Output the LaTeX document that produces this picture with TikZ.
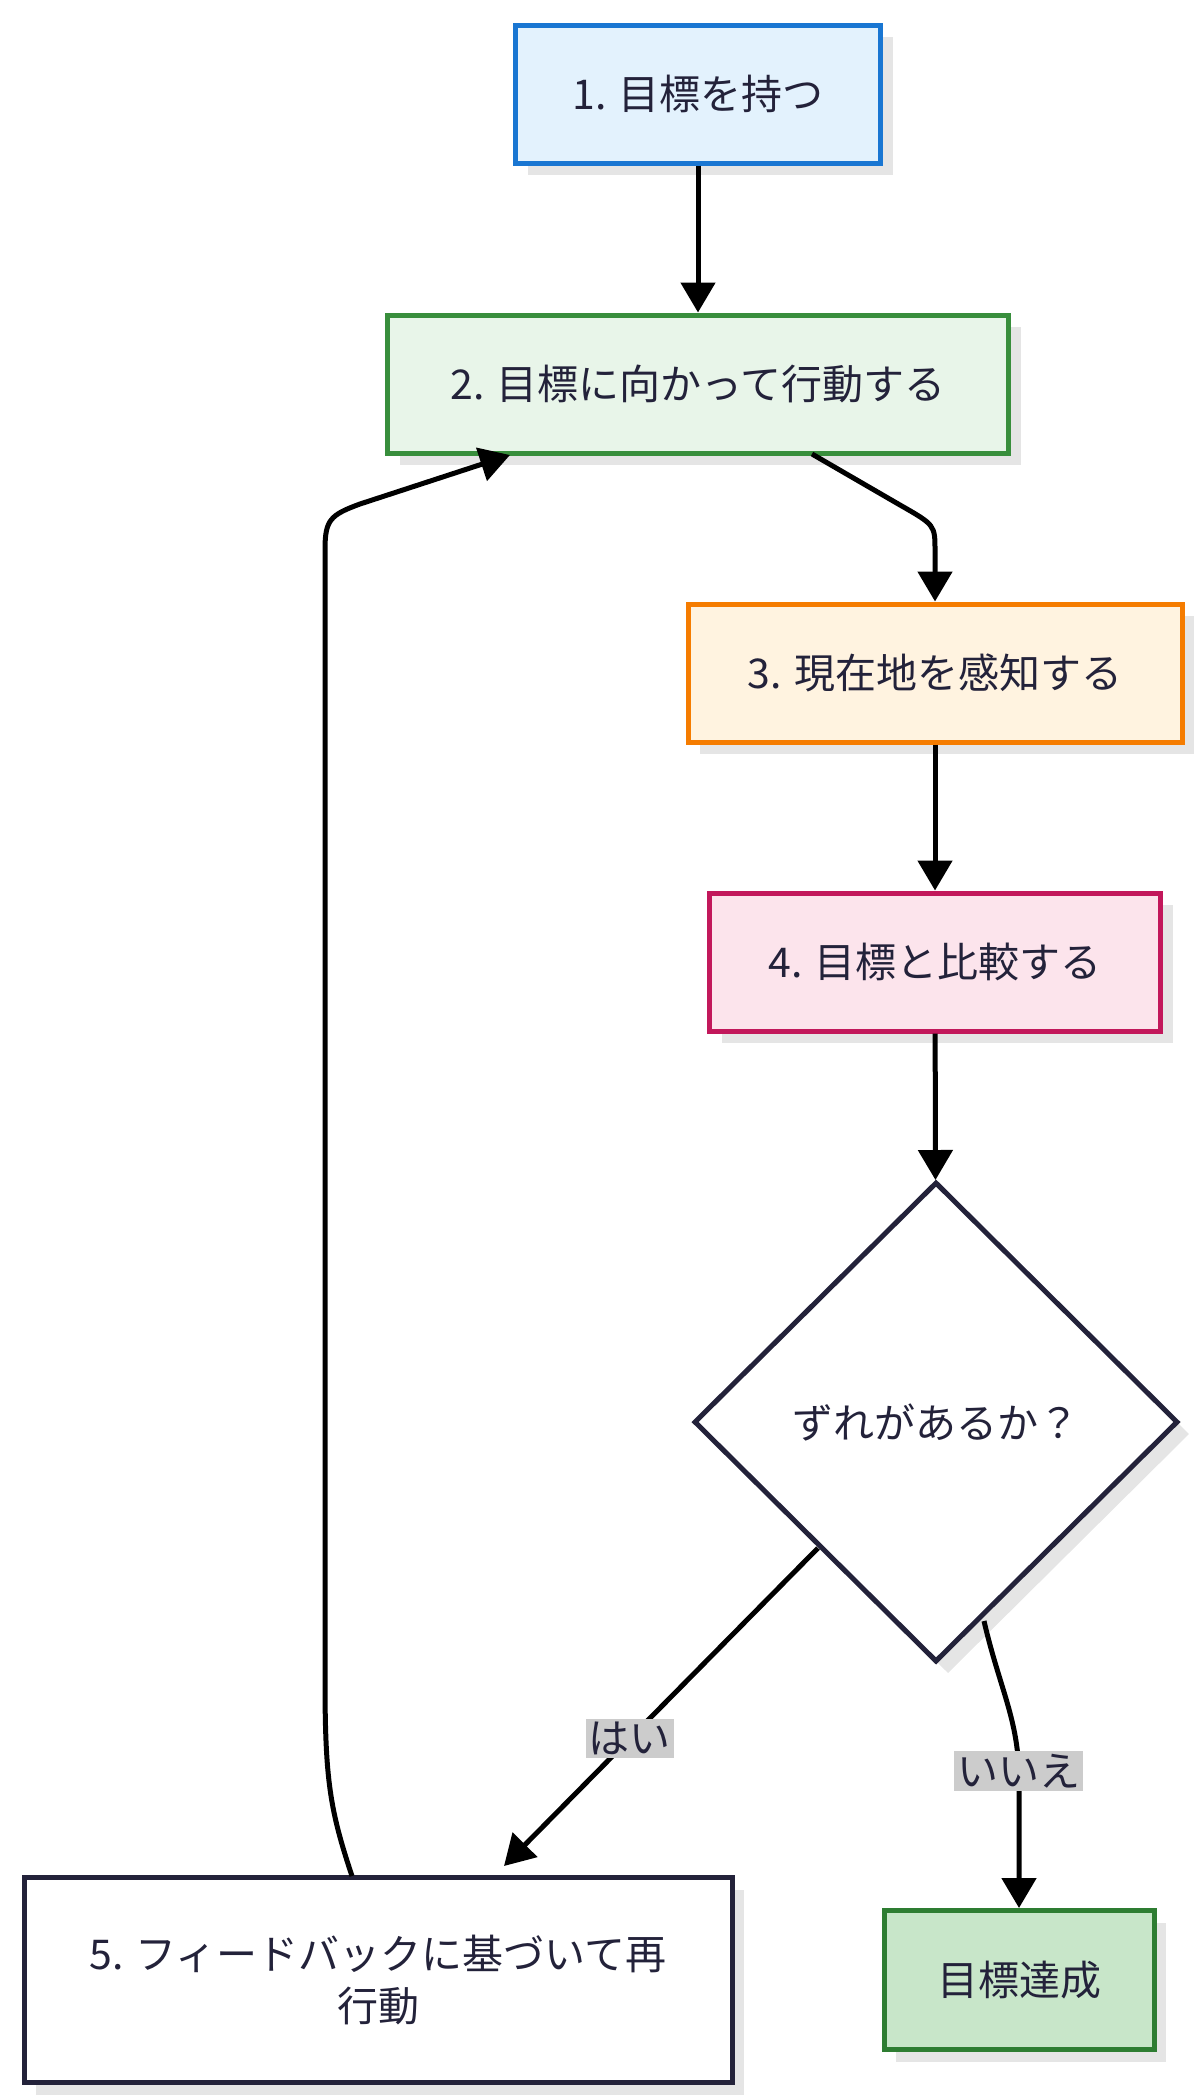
\documentclass[tikz,border=0pt]{standalone}
\usepackage{fontspec}
\setmainfont{Noto Sans CJK JP}
\usetikzlibrary{shapes.geometric,arrows.meta}
\definecolor{dk}{HTML}{23223A}
\begin{document}
\begin{tikzpicture}[x=1pt,y=-1pt,
 box/.style={draw,line width=5pt,minimum height=138pt,inner sep=0pt,text=dk,font=\fontsize{41}{52}\selectfont,
   preaction={fill=black!10,draw=none,transform canvas={shift={(12pt,-12pt)}}}},
 ar/.style={line width=5pt,-{Triangle[length=30pt,width=34pt]}},
 lab/.style={fill=black!20,text=dk,font=\fontsize{41}{46}\selectfont,inner sep=3pt}]
\useasboundingbox (0,0) rectangle (1200,2096);
\node[box,fill={rgb,255:red,227;green,242;blue,253},draw={rgb,255:red,25;green,118;blue,210},minimum width=365pt] (n1) at (698,94) {1. 目標を持つ};
\node[box,fill={rgb,255:red,232;green,245;blue,233},draw={rgb,255:red,56;green,142;blue,60},minimum width=621pt] (n2) at (698,384) {2. 目標に向かって行動する};
\node[box,fill={rgb,255:red,255;green,243;blue,224},draw={rgb,255:red,245;green,124;blue,0},minimum width=494pt] (n3) at (935,673) {3. 現在地を感知する};
\node[box,fill={rgb,255:red,252;green,228;blue,236},draw={rgb,255:red,194;green,24;blue,91},minimum width=451pt] (n4) at (935,962) {4. 目標と比較する};
\node[draw=dk,line width=5pt,fill=white,diamond,minimum width=484pt,minimum height=480pt,inner sep=0pt,text=dk,font=\fontsize{41}{52}\selectfont,
   preaction={fill=black!10,draw=none,transform canvas={shift={(12pt,-12pt)}}}] (d) at (936,1422) {ずれがあるか？};
\node[box,fill=white,draw=dk,minimum width=708pt,minimum height=205pt,align=center] (n5) at (378,1980) {5. フィードバックに基づいて再\\行動};
\node[box,fill={rgb,255:red,200;green,230;blue,201},draw={rgb,255:red,46;green,125;blue,50},minimum width=270pt,minimum height=139pt] (n6) at (1019,1980) {目標達成};
\draw[ar] (n1) -- (n2);
\draw[ar] (812,454) -- (900,505) .. controls (935,525) .. (935,551) -- (n3.north);
\draw[ar] (n3) -- (n4);
\draw[ar] (n4) -- (d);
\draw[ar] (818,1548) -- (504,1866) node[lab,pos=0.6] {はい};
\draw[ar] (984,1621) .. controls (1000,1690) and (1019,1720) .. (1019,1780) node[lab,pos=0.95] {いいえ} -- (1019,1908);
\draw[ar] (352,1876) .. controls (330,1810) and (325,1780) .. (325,1680) -- (325,550) .. controls (325,520) and (330,515) .. (360,504) -- (510,455);
\end{tikzpicture}
\end{document}
